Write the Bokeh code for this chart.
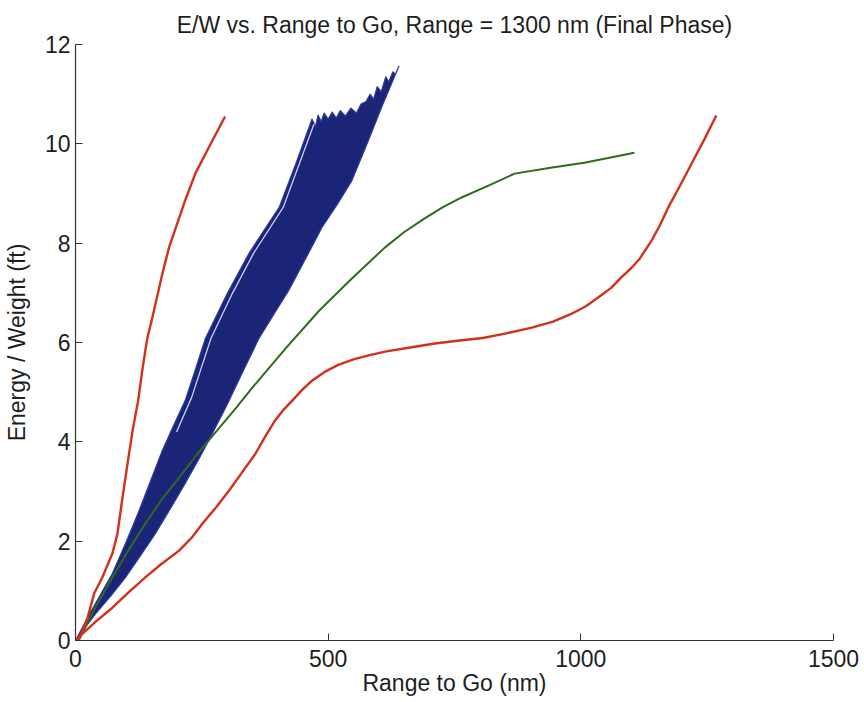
from bokeh.plotting import figure
from bokeh.models import Range1d, Title
from bokeh.embed import file_html
from bokeh.resources import INLINE

# ---- data ----
red_left_x = [0, 8, 24, 37, 53, 73, 83, 93, 103, 113, 124, 133, 142, 152, 172, 185,
              198, 217, 237, 264, 296]
red_left_y = [0, 0.04, 0.46, 0.95, 1.27, 1.75, 2.15, 2.88, 3.56, 4.23, 4.83, 5.5, 6.08,
              6.5, 7.39, 7.91, 8.3, 8.86, 9.4, 9.93, 10.55]

red_right_x = [0, 14, 40, 73, 105, 138, 170, 205, 230, 251, 278, 304, 330, 356, 375, 395,
               412, 429, 448, 468, 495, 520, 550, 580, 615, 650, 711, 760, 806, 850, 903,
               945, 982, 1010, 1035, 1060, 1080, 1100, 1116, 1140, 1157, 1173, 1196, 1219,
               1245, 1268]
red_right_y = [0, 0.14, 0.38, 0.66, 0.97, 1.27, 1.54, 1.81, 2.07, 2.35, 2.68, 3.02, 3.39,
               3.76, 4.1, 4.43, 4.65, 4.83, 5.04, 5.23, 5.42, 5.55, 5.66, 5.74, 5.82, 5.88,
               5.98, 6.04, 6.09, 6.18, 6.30, 6.42, 6.58, 6.73, 6.91, 7.1, 7.31, 7.5, 7.68,
               8.05, 8.37, 8.72, 9.15, 9.6, 10.1, 10.57]

green_x = [0, 8, 40, 73, 105, 138, 170, 205, 240, 277, 315, 350, 415, 482, 548, 612, 650,
           691, 728, 764, 815, 869, 940, 1007, 1106]
green_y = [0, 0.04, 0.68, 1.27, 1.82, 2.35, 2.83, 3.28, 3.74, 4.19, 4.65, 5.09, 5.87, 6.64,
           7.3, 7.91, 8.22, 8.5, 8.73, 8.92, 9.15, 9.40, 9.52, 9.62, 9.82]

# envelope of the blue trajectory bundle: left edge, jagged top, right edge
band_left_x = [0, 28, 73, 100, 126, 150, 172, 195, 217, 237, 257, 300, 343, 373, 403,
               436, 468]
band_left_y = [0, 0.54, 1.35, 1.98, 2.62, 3.25, 3.83, 4.35, 4.83, 5.45, 6.08, 6.98, 7.79,
               8.26, 8.72, 9.6, 10.5]
band_top_x = [475, 480, 486, 492, 500, 508, 516, 524, 534, 545, 556, 565, 575, 583,
              590, 597, 605, 614, 620, 628, 633, 640]
band_top_y = [10.35, 10.58, 10.45, 10.62, 10.5, 10.64, 10.52, 10.67, 10.56, 10.72,
              10.62, 10.8, 10.85, 11.0, 10.9, 11.15, 11.05, 11.35, 11.25, 11.45, 11.4, 11.56]
band_right_x = [606, 577, 547, 518, 488, 455, 422, 392, 363, 333, 304, 271, 245, 217, 188,
                158, 128, 99, 70, 40, 0]
band_right_y = [10.74, 10.0, 9.26, 8.78, 8.32, 7.68, 7.05, 6.56, 6.08, 5.45, 4.83, 4.17,
                3.67, 3.16, 2.66, 2.15, 1.7, 1.27, 0.9, 0.54, 0]

light_x = [200, 230, 268, 310, 352, 411, 472]
light_y = [4.2, 4.9, 6.08, 6.98, 7.79, 8.72, 10.4]

x_ticks = [0, 500, 1000, 1500]
y_ticks = [0, 2, 4, 6, 8, 10, 12]

FONT = "Liberation Sans"
TXT = "#1e1e1e"

p = figure(width=864, height=702, output_backend="svg", toolbar_location=None,
           x_range=Range1d(0, 1500), y_range=Range1d(0, 12),
           min_border_left=73, min_border_right=31, min_border_top=44,
           min_border_bottom=62)
p.outline_line_color = None
p.grid.visible = False
p.background_fill_color = "white"
p.border_fill_color = "white"

p.title = Title(text="E/W vs. Range to Go, Range = 1300 nm (Final Phase)",
                align="center", text_font=FONT, text_font_size="23px",
                text_font_style="normal", text_color=TXT, standoff=14)

# blue bundle
bx = band_left_x + band_top_x + band_right_x
by = band_left_y + band_top_y + band_right_y
p.patch(bx, by, fill_color="#1b2578", line_color="#2c3b9e", line_width=1.2,
        line_join="round")
p.line(light_x, light_y, line_color="#c9d2f2", line_width=1.3)

p.line(green_x, green_y, line_color="#2f6a1e", line_width=2, line_join="round")
p.line(red_left_x, red_left_y, line_color="#d3301c", line_width=2.4, line_join="round")
p.line(red_right_x, red_right_y, line_color="#d3301c", line_width=2.4, line_join="round")

for ax in (p.xaxis[0], p.yaxis[0]):
    ax.axis_line_color = "#333333"
    ax.axis_line_width = 1.2
    ax.major_tick_line_color = "#333333"
    ax.major_tick_in = 7
    ax.major_tick_out = 0
    ax.minor_tick_line_color = None
    ax.major_label_text_font = FONT
    ax.major_label_text_font_size = "23px"
    ax.major_label_text_color = TXT
    ax.axis_label_text_font = FONT
    ax.axis_label_text_font_size = "23px"
    ax.axis_label_text_font_style = "normal"
    ax.axis_label_text_color = TXT

p.xaxis.ticker = x_ticks
p.yaxis.ticker = y_ticks
p.xaxis.axis_label = "Range to Go (nm)"
p.yaxis.axis_label = "Energy / Weight (ft)"
p.xaxis.major_label_standoff = 9
p.yaxis.major_label_standoff = 5
p.xaxis.axis_label_standoff = 0
p.yaxis.axis_label_standoff = 12

open("out.html", "w").write(file_html(p, INLINE))
